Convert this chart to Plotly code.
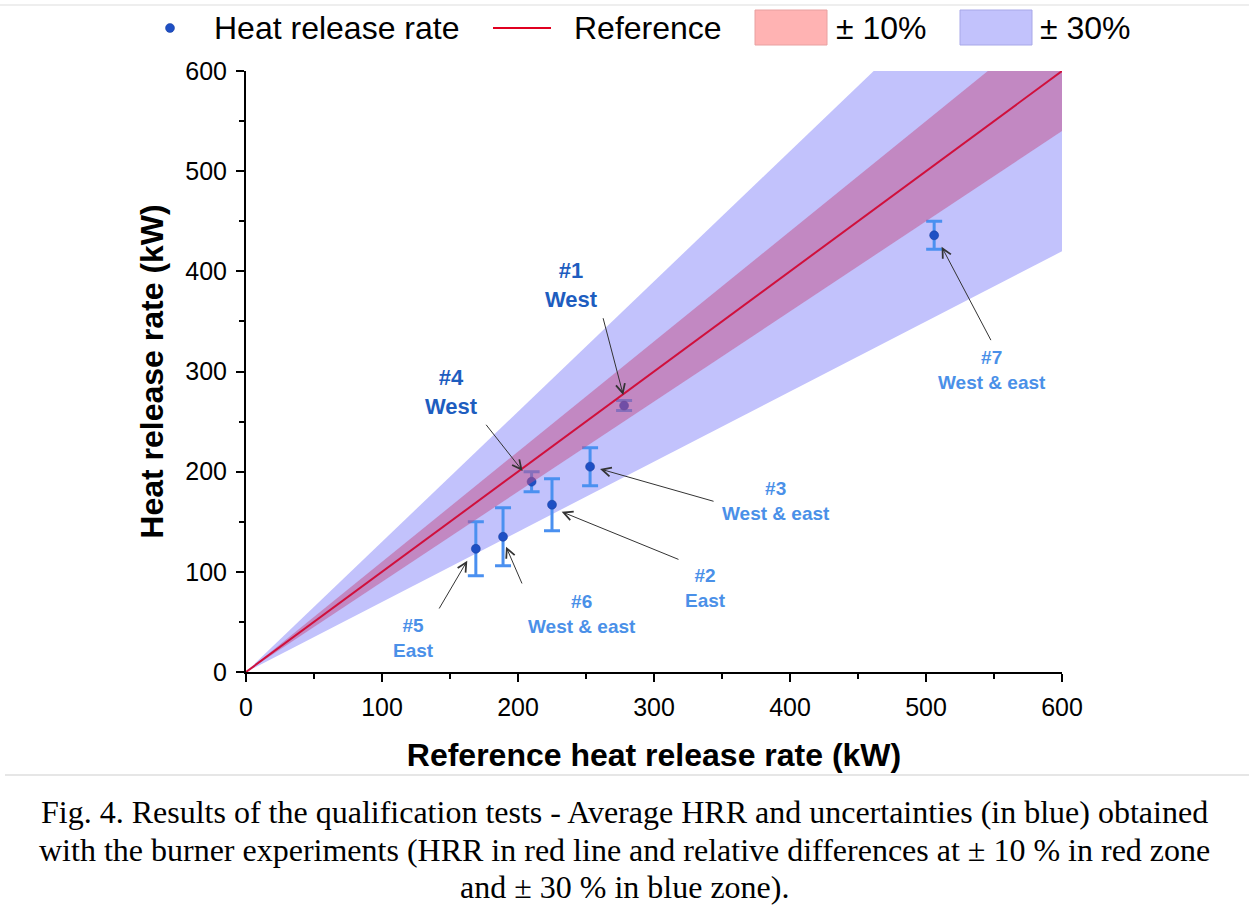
import plotly.graph_objects as go

# ---------------- data ----------------
ref_x = [278, 225, 253, 210, 169, 189, 506]          # Reference HRR (kW)
hrr_y = [266, 167, 205, 190, 123, 135, 436]          # Measured HRR (kW)
hrr_err = [5, 26, 19, 10, 27, 29, 14]                # uncertainty (kW)

test_ids = ["#1", "#2", "#3", "#4", "#5", "#6", "#7"]
test_sides = ["West", "East", "West & east", "West", "East", "West & east", "West & east"]
test_dark = [True, False, False, True, False, False, False]

# label centres and arrow tails (data units)
label_x = [239.5, 337.5, 389.5, 151.2, 123.0, 247.3, 548.3]
label_y = [386.0, 84.0, 171.0, 279.5, 34.0, 57.5, 301.5]
arrow_tail_x = [262.3, 319.1, 344.9, 175.7, 141.4, 203.4, 548.3]
arrow_tail_y = [354.7, 111.8, 170.0, 248.3, 61.9, 86.9, 329.8]
arrow_head_x = [277.4, 232.1, 260.3, 203.4, 162.7, 191.2, 511.5]
arrow_head_y = [276.5, 160.0, 202.7, 200.7, 111.1, 125.1, 424.6]

line_x = [0, 600]
band_inner = 0.10
band_outer = 0.30

x_ticks = [0, 100, 200, 300, 400, 500, 600]
y_ticks = [0, 100, 200, 300, 400, 500, 600]

caption_lines = [
    "Fig. 4. Results of the qualification tests - Average HRR and uncertainties (in blue) obtained",
    "with the burner experiments (HRR in red line and relative differences at ± 10 % in red zone",
    "and ± 30 % in blue zone).",
]

# ---------------- geometry helpers (layout only) ----------------
W, H = 1249, 913
L, R, T, B = 246, 1062, 71, 672


def px(xp):
    return (xp - L) / (R - L)


def py(yp):
    return (B - yp) / (B - T)


def band(f):
    xs = line_x + line_x[::-1]
    ys = [v * (1 + f) for v in line_x] + [v * (1 - f) for v in line_x[::-1]]
    return xs, ys


fig = go.Figure()

bx, by = band(band_outer)
fig.add_trace(go.Scatter(x=bx, y=by, fill="toself", fillcolor="#C2C2FC",
                         line=dict(width=0), mode="lines", hoverinfo="skip",
                         showlegend=False, name="± 30%"))

fig.add_trace(go.Scatter(x=ref_x, y=hrr_y, mode="markers", name="Heat release rate",
                         marker=dict(size=9, color="#1E4FC4",
                                     line=dict(width=0.5, color="#163C9A")),
                         error_y=dict(type="data", array=hrr_err, visible=True,
                                      color="#4A90F0", thickness=3, width=8),
                         showlegend=False))

rx, ry = band(band_inner)
fig.add_trace(go.Scatter(x=rx, y=ry, fill="toself", fillcolor="rgba(194,78,136,0.5)",
                         line=dict(width=0), mode="lines", hoverinfo="skip",
                         showlegend=False, name="± 10%"))

fig.add_trace(go.Scatter(x=line_x, y=line_x, mode="lines", name="Reference",
                         line=dict(color="#D0103C", width=2), showlegend=False))

annotations = []
for i in range(len(test_ids)):
    col = "#1E5DBF" if test_dark[i] else "#4A90E8"
    size = 22 if test_dark[i] else 19
    annotations.append(dict(
        x=label_x[i], y=label_y[i], xref="x", yref="y", showarrow=False,
        text=f"{test_ids[i]}<br>{test_sides[i]}",
        font=dict(family="Liberation Sans, Arial", size=size, color=col, weight="bold"),
        align="center", xanchor="center", yanchor="middle"))
    annotations.append(dict(
        x=arrow_head_x[i], y=arrow_head_y[i], xref="x", yref="y",
        ax=arrow_tail_x[i], ay=arrow_tail_y[i], axref="x", ayref="y",
        text="", showarrow=True, arrowhead=5, arrowsize=1.8, arrowwidth=1,
        arrowcolor="#333333", standoff=0, startstandoff=0))

# legend (manual)
leg_font = dict(family="Liberation Sans, Arial", size=32, color="black")
leg_y = 28
annotations += [
    dict(x=px(212), y=py(leg_y), xref="paper", yref="paper", text="Heat release rate",
         showarrow=False, xanchor="left", yanchor="middle", font=leg_font),
    dict(x=px(572), y=py(leg_y), xref="paper", yref="paper", text="Reference",
         showarrow=False, xanchor="left", yanchor="middle", font=leg_font),
    dict(x=px(834), y=py(leg_y), xref="paper", yref="paper", text="± 10%",
         showarrow=False, xanchor="left", yanchor="middle", font=leg_font),
    dict(x=px(1038), y=py(leg_y), xref="paper", yref="paper", text="± 30%",
         showarrow=False, xanchor="left", yanchor="middle", font=leg_font),
]

# caption
cap_y = [812, 850, 887]
for line, yy in zip(caption_lines, cap_y):
    annotations.append(dict(
        x=px(W / 2), y=py(yy), xref="paper", yref="paper", showarrow=False,
        xanchor="center", yanchor="middle", align="center", text=line,
        font=dict(family="Liberation Serif, Times New Roman", size=32, color="black")))

shapes = [
    dict(type="circle", xref="paper", yref="paper",
         x0=px(165.5), x1=px(174.5), y0=py(32.5), y1=py(23.5),
         fillcolor="#1E4FC4", line=dict(width=0.5, color="#163C9A")),
    dict(type="line", xref="paper", yref="paper",
         x0=px(493), x1=px(551), y0=py(leg_y), y1=py(leg_y),
         line=dict(color="#E00020", width=2)),
    dict(type="rect", xref="paper", yref="paper",
         x0=px(755), x1=px(827), y0=py(45), y1=py(10),
         fillcolor="#FFB3B3", line=dict(color="#E8A0A0", width=1)),
    dict(type="rect", xref="paper", yref="paper",
         x0=px(960), x1=px(1032), y0=py(45), y1=py(10),
         fillcolor="#C2C2FC", line=dict(color="#A8A8E8", width=1)),
    dict(type="line", xref="paper", yref="paper",
         x0=px(5), x1=px(1249), y0=py(775), y1=py(775),
         line=dict(color="#E6E6E6", width=2)),
    dict(type="line", xref="paper", yref="paper",
         x0=px(0), x1=px(1249), y0=py(5), y1=py(5),
         line=dict(color="#EEEEEE", width=2)),
]

axis_common = dict(
    showline=True, linecolor="black", linewidth=2, mirror=False,
    showgrid=False, zeroline=False, ticks="outside", ticklen=8, tickwidth=2,
    tickcolor="black", tickfont=dict(family="Liberation Sans, Arial", size=25, color="black"),
    minor=dict(dtick=50, ticks="outside", ticklen=5, tickwidth=2, tickcolor="black", showgrid=False),
    ticklabelstandoff=4,
)

fig.update_layout(
    width=W, height=H,
    margin=dict(l=L, r=W - R, t=T, b=H - B),
    paper_bgcolor="white", plot_bgcolor="white",
    showlegend=False,
    xaxis=dict(range=[0, 600], tickvals=x_ticks,
               title=dict(text="Reference heat release rate (kW)", standoff=24,
                          font=dict(family="Liberation Sans, Arial", size=32, color="black", weight="bold")),
               **axis_common),
    yaxis=dict(range=[0, 600], tickvals=y_ticks,
               title=dict(text="Heat release rate (kW)", standoff=12,
                          font=dict(family="Liberation Sans, Arial", size=32, color="black", weight="bold")),
               **axis_common),
    annotations=annotations,
    shapes=shapes,
)

fig.write_html("out.html")
